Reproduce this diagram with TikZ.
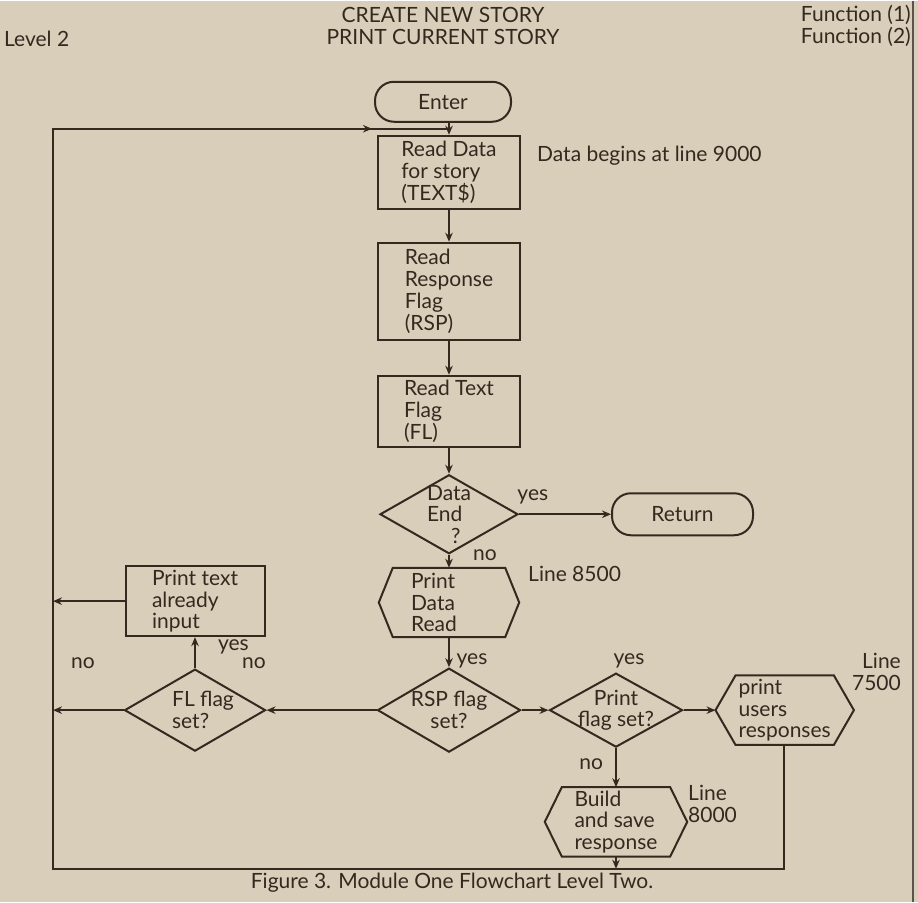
\documentclass[tikz,border=0pt]{standalone}
\usepackage{fontspec}
\setmainfont{Lato}
\usetikzlibrary{arrows.meta,positioning,calc,shapes.geometric}
\definecolor{pgPaper}{HTML}{D8CEBA}
\definecolor{pgInk}{HTML}{33291F}
\newcommand{\chartfont}{\fontsize{21}{21.7}\selectfont}
\tikzset{
  >={Stealth[length=9pt,width=7.5pt]},
  base/.style={draw=pgInk, line width=2pt, text=pgInk, font=\chartfont, inner sep=0pt},
  box/.style={base, rectangle, minimum width=142pt, align=left},
  term/.style={base, rectangle, rounded corners=19pt, minimum width=136pt, minimum height=40pt},
  decision/.style={base, diamond, minimum width=140pt, minimum height=80pt},
  hexnode/.style={rectangle, inner sep=0pt, text=pgInk, font=\chartfont, align=left,
                  minimum width=140pt, minimum height=69pt},
  txt/.style={text=pgInk, font=\chartfont, inner sep=0pt},
  flow/.style={->, draw=pgInk, line width=2pt},
  wire/.style={draw=pgInk, line width=2pt},
}
% hexagon outline round a hexnode: node name, slant
\newcommand{\hexoutline}[2]{%
  \draw[wire] (#1.west) -- ([xshift=#2]#1.north west) -- ([xshift=-#2]#1.north east)
    -- (#1.east) -- ([xshift=-#2]#1.south east) -- ([xshift=#2]#1.south west) -- cycle;}

\begin{document}
\begin{tikzpicture}[x=1pt, y=1pt]
  \fill[pgPaper] (0,0) rectangle (918,-901);
  \draw[pgInk!80, line width=1.5pt] (913,0) -- (913,-901);

  % headings
  \node[txt, align=center] (title) at (443,-25) {CREATE NEW STORY\\PRINT CURRENT STORY};
  \node[txt, anchor=west] (level) at (4,-38) {Level 2};
  \node[txt, align=right, anchor=east] (funcs) at (911,-25) {Function (1)\\Function (2)};

  % main column
  \node[box, minimum height=73pt] (rddata) at (449,-171.5) {Read Data\\for story\\(TEXT\$)};
  \node[term, above=12pt of rddata, xshift=-6pt] (enter) {Enter};
  \node[box, minimum height=97pt, below=32pt of rddata] (rdrsp) {Read\\Response\\Flag\\(RSP)};
  \node[box, minimum height=71pt, below=34pt of rdrsp] (rdtext) {Read Text\\Flag\\(FL)};
  \node[decision, minimum width=138pt, minimum height=79pt, below=26pt of rdtext,
        label={[txt, align=left]center:{Data\\End\\\hspace*{24pt}?}}] (dend) {};
  \node[term, minimum width=141pt, minimum height=42pt, right=92pt of dend] (ret) {Return};
  \node[hexnode, text width=76pt, below=13pt of dend] (pdr) {Print\\Data\\Read};
  \hexoutline{pdr}{14pt}
  \node[decision, minimum width=143pt, minimum height=84pt, below=30pt of pdr,
        label={[txt, align=center]center:{RSP flag\\set?}}] (rsp) {};
  \node[decision, minimum width=133pt, minimum height=74pt, right=27pt of rsp,
        label={[txt, align=center]center:{Print\\flag set?}}] (prflag) {};
  \node[hexnode, minimum width=138pt, right=32pt of prflag] (users) {print\\users\\responses};
  \hexoutline{users}{20pt}
  \node[hexnode, minimum width=142pt, below=39pt of prflag] (build) {Build\\and save\\response};
  \hexoutline{build}{17pt}
  \node[decision, minimum width=141pt, minimum height=82pt, left=110pt of rsp,
        label={[txt, align=left, xshift=8pt]center:{FL flag\\set?}}] (flflag) {};
  \node[box, minimum width=139pt, minimum height=70pt, above=31pt of flflag] (txtin) {Print text\\already\\input};

  % notes
  \node[txt, anchor=west] (note9000) at (537,-155) {Data begins at line 9000};
  \node[txt, anchor=west] (note8500) at (528,-573) {Line 8500};
  \node[txt, anchor=west, align=left] (note8000) at (688,-803) {Line\\8000};
  \node[txt, anchor=east, align=right] (note7500) at (901,-671) {Line\\7500};

  % loop corners
  \coordinate (loopTL) at (53,-128);
  \coordinate (loopBL) at (53,-868);
  \coordinate (loopIn) at (rddata.north |- loopTL);
  \coordinate (loopHead) at (372,-128);
  \coordinate (loopBR) at (784,-868);

  % connectors
  \draw[flow] (enter.south -| rddata.north) -- (rddata.north);
  \draw[flow] (rddata) -- (rdrsp);
  \draw[flow] (rdrsp) -- (rdtext);
  \draw[flow] (rdtext) -- (dend);
  \draw[flow] (dend) -- node[txt, above=9pt, pos=.15]{yes} (ret);
  \draw[flow] (dend) -- (pdr);
  \draw[flow] (pdr) -- (rsp);
  \draw[flow] (rsp) -- (prflag);
  \draw[flow] (prflag) -- (users);
  \draw[flow] (prflag) -- node[txt, left=12pt, pos=.4]{no} (build);
  \draw[flow] (rsp) -- (flflag);
  \draw[flow] (flflag) -- node[txt, right=22pt, pos=.7]{yes} (flflag.north |- txtin.south);
  \draw[flow] (flflag.west) -- (flflag.west -| loopTL);
  \draw[flow] (txtin.west) -- (txtin.west -| loopTL);
  \draw[flow] (build.south) -- (build.south |- loopBL);
  \draw[wire] (users.south -| loopBR) -- (loopBR) -- (loopBL) -- (loopTL) -- (loopIn);
  \draw[flow] (loopTL) -- (loopHead);

  % branch labels
  \node[txt] (nodend) at (485,-554) {no};
  \node[txt] (yesrsp) at (472,-660) {yes};
  \node[txt] (yespr) at (629,-660) {yes};
  \node[txt] (nofl) at (254,-662) {no};
  \node[txt] (noleft) at (83,-662) {no};

  % caption
  \node[txt] (caption) at (452,-882) {Figure 3. Module One Flowchart Level Two.};
\end{tikzpicture}
\end{document}
